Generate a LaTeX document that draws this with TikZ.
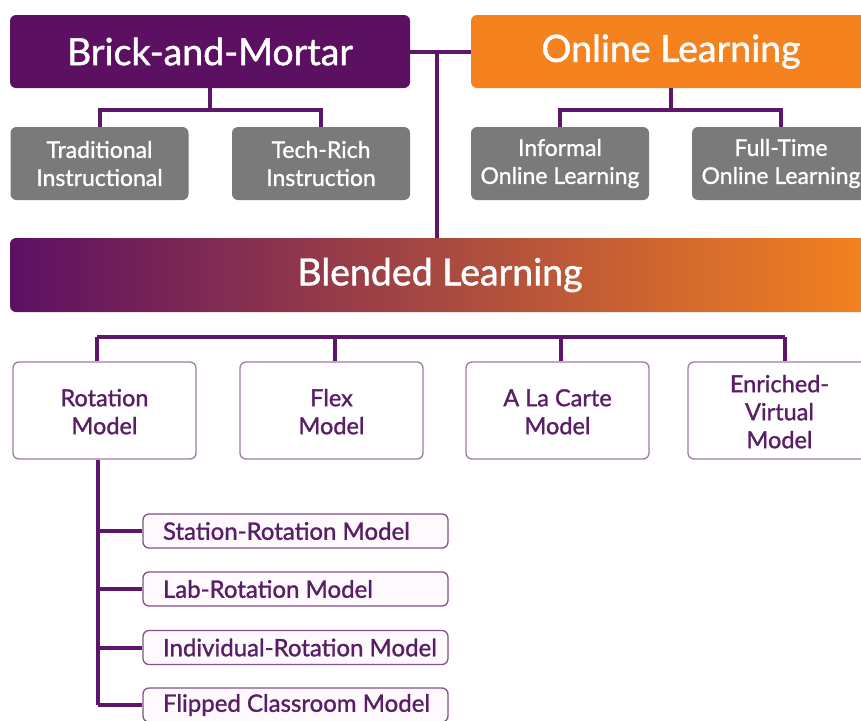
\documentclass[tikz,border=0pt]{standalone}
\usepackage{fontspec}
\setmainfont{Lato}[FakeBold=1.2]
\usetikzlibrary{calc}
\definecolor{bmpurple}{HTML}{5C1062}
\definecolor{olorange}{HTML}{F4821F}
\definecolor{grayfill}{HTML}{7A7A7A}
\definecolor{linepurple}{HTML}{5E166A}
\definecolor{modelborder}{HTML}{A07AA6}
\definecolor{modeltext}{HTML}{5A1E66}
\definecolor{subborder}{HTML}{83528A}
\definecolor{subfill}{HTML}{FDF9FD}
\newcommand{\subtxt}[1]{\makebox[265pt][l]{#1}}
\tikzset{
  bigbox/.style={rounded corners=6pt, inner sep=0pt, minimum height=73pt, text=white,
    font=\fontsize{37.5}{44}\selectfont},
  graybox/.style={rounded corners=6pt, fill=grayfill, inner sep=0pt, minimum width=178pt,
    minimum height=73pt, text=white, align=center, font=\fontsize{23}{28}\selectfont},
  modelbox/.style={rounded corners=6pt, draw=modelborder, line width=1.3pt, fill=white,
    inner sep=0pt, minimum width=183pt, minimum height=97pt, text=modeltext, align=center,
    font=\fontsize{23.5}{28}\selectfont},
  subbox/.style={rounded corners=6pt, draw=subborder, line width=1.3pt, fill=subfill,
    inner sep=0pt, minimum width=305pt, minimum height=34pt, text=modeltext,
    font=\fontsize{24}{27}\selectfont},
  conn/.style={draw=linepurple, line width=4pt}
}
\begin{document}
\begin{tikzpicture}[x=1pt,y=-1pt]
\useasboundingbox (0,0) rectangle (861,720);
\clip (0,0) rectangle (861,720);
\fill[white] (0,0) rectangle (861,720);

\coordinate (j) at (437,50);
\coordinate (busL) at (97,337);
\coordinate (busR) at (785,337);
\coordinate (trunk) at (98,459);

% top boxes
\node[bigbox, fill=bmpurple, minimum width=400pt] (bm) at (210,51.5) {Brick-and-Mortar};
\node[bigbox, fill=olorange, minimum width=400pt] (ol) at (671,51.5) {Online Learning};

\node[graybox] (trad) at (99.5,163.5) {Traditional\\Instructional};
\node[graybox] (tech) at (321,163.5) {Tech-Rich\\Instruction};
\node[graybox] (inf) at (560,163.5) {Informal\\Online Learning};
\node[graybox] (ft) at (781,163.5) {Full-Time\\Online Learning};

\node[bigbox, minimum width=860pt, minimum height=74pt, left color=bmpurple, right color=olorange] (bl) at (440,275) {Blended Learning};

\node[modelbox] (rot) at (104.5,410.5) {\strut Rotation\\Model};
\node[modelbox] (flex) at (331.5,410.5) {\strut Flex\\Model};
\node[modelbox] (alc) at (557.5,410.5) {\strut A La Carte\\Model};
\node[modelbox] (ev) at (779.5,410.5) {\strut Enriched-\\Virtual\\Model};

\node[subbox] (s1) at (295.5,531) {\subtxt{Station-Rotation Model}};
\node[subbox] (s2) at (295.5,589) {\subtxt{Lab-Rotation Model}};
\node[subbox] (s3) at (295.5,647.5) {\subtxt{Individual-Rotation Model}};
\node[subbox] (s4) at (295.5,705) {\subtxt{Flipped Classroom Model}};

% connectors
\draw[conn] (bm.east) -- (ol.west);
\draw[conn] (j) -- (j |- bl.north);
\draw[conn] (bm.south) -- ++(0,22) coordinate (bmj);
\draw[conn] (trad.north) |- (bmj) -| (tech.north);
\draw[conn] (ol.south) -- ++(0,22) coordinate (olj);
\draw[conn] (inf.north) |- (olj) -| (ft.north);
\draw[conn] (busL) -- (busR);
\draw[conn] (busL) -- (busL |- rot.north);
\draw[conn] (busR) -- (busR |- ev.north);
\draw[conn] (flex.north -| 335,0) -- (335,337);
\draw[conn] (alc.north -| 561,0) -- (561,337);
\draw[conn] (trunk |- rot.south) -- (trunk |- s4.west);
\draw[conn] (s1.west) -- (s1.west -| trunk);
\draw[conn] (s2.west) -- (s2.west -| trunk);
\draw[conn] (s3.west) -- (s3.west -| trunk);
\draw[conn] (s4.west) -- (s4.west -| trunk);
\end{tikzpicture}
\end{document}
